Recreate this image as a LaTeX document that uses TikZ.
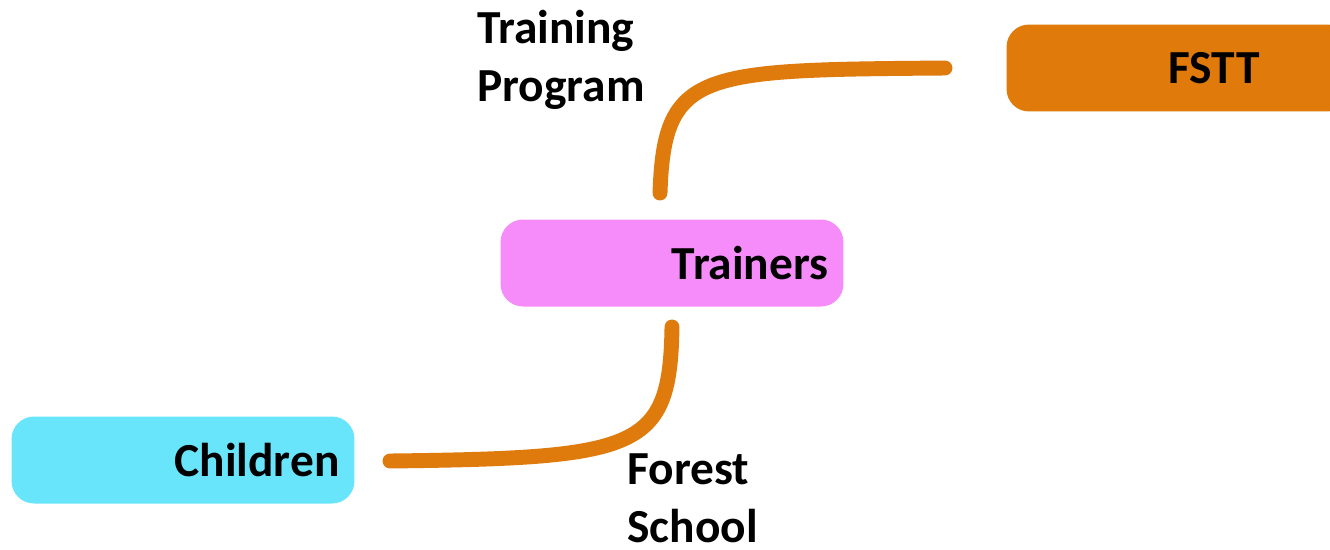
\documentclass[tikz,border=0pt]{standalone}
\usepackage{fontspec}
\setmainfont{Carlito}
\definecolor{linkorange}{RGB}{222,123,12}
\definecolor{fsttorange}{RGB}{223,122,11}
\definecolor{trainerpink}{RGB}{246,140,250}
\definecolor{childcyan}{RGB}{104,229,250}

\begin{document}
\begin{tikzpicture}[x=0.02cm,y=-0.02cm,
    box/.style={rounded corners=0.45cm, minimum width=6.86cm, minimum height=1.74cm,
        inner xsep=0.3cm, text width=6.26cm, align=right,
        font=\fontsize{27}{33}\selectfont\bfseries},
    linktext/.style={inner sep=0pt, align=left, anchor=north west,
        font=\fontsize{27}{33}\selectfont\bfseries},
    link/.style={draw=linkorange, line width=8.5pt, line cap=round}]
    \clip (0,0) rectangle (1330,549);
    \node[box, fill=fsttorange, inner xsep=1.8cm, text width=3.26cm](FSTT) at (1178,68) {FSTT};
    \node[box, fill=trainerpink](Trainers) at (672,263) {Trainers};
    \node[box, fill=childcyan](Children) at (183,460) {Children};
    \node[linktext](training) at (477,10) {Training\\Program};
    \node[linktext](forest) at (627,453) {Forest\\School};
    \coordinate (trainersTop) at (660,193);
    \coordinate (fsttLeft) at (945,68);
    \coordinate (trainersBottom) at (672,327);
    \coordinate (childrenRight) at (390,461);
    \draw[link] (trainersTop) .. controls (664,70) and (700,70) .. (fsttLeft);
    \draw[link] (trainersBottom) .. controls (670,450) and (640,458) .. (childrenRight);
\end{tikzpicture}
\end{document}
